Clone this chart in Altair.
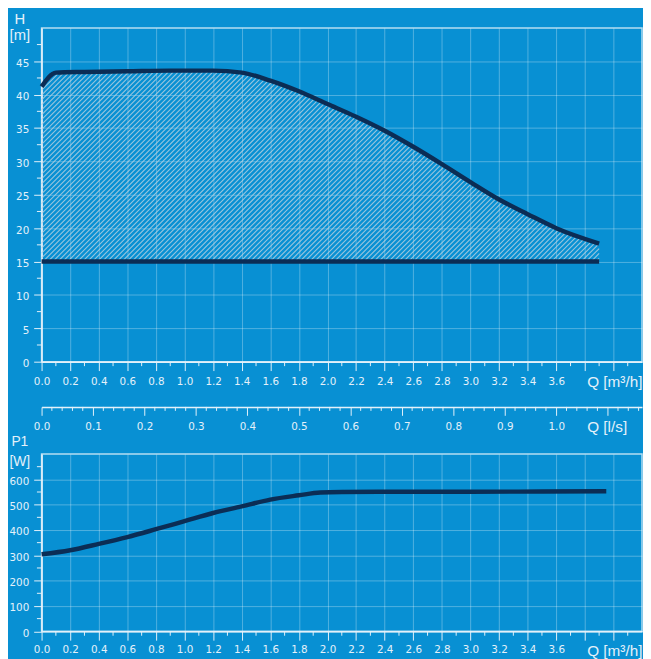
import altair as alt
import pandas as pd

# ---------------- data ----------------
# Max curve H(Q): Q in m3/h, H in m
Q_H = [0.0, 0.1, 0.3, 0.6, 0.9, 1.2, 1.4, 1.6, 1.8, 2.0, 2.2, 2.4, 2.6, 2.8, 3.0, 3.2, 3.4, 3.6, 3.9]
H_MAX = [41.2, 43.3, 43.4, 43.5, 43.6, 43.6, 43.3, 42.1, 40.5, 38.6, 36.7, 34.6, 32.2, 29.6, 26.9, 24.3, 22.1, 20.0, 17.7]
# Min curve (flat)
Q_MIN = [0.0, 3.9]
H_MIN = [15.0, 15.0]
# Power P1(Q): W
Q_P = [0.0, 0.2, 0.4, 0.6, 0.8, 1.0, 1.2, 1.4, 1.6, 1.8, 1.95, 2.1, 2.5, 3.0, 3.5, 3.95]
P1 = [304, 320, 345, 372, 403, 435, 467, 493, 520, 537, 548, 550, 551, 551, 552, 553]

# tick values
Q_MAJOR = [round(0.2 * i, 1) for i in range(21)]
Q_MINOR = [round(0.1 + 0.2 * i, 1) for i in range(21)]
H_MAJOR = [0, 5, 10, 15, 20, 25, 30, 35, 40, 45]
H_MINOR = [2.5, 7.5, 12.5, 17.5, 22.5, 27.5, 32.5, 37.5, 42.5, 47.5]
P_MAJOR = [0, 100, 200, 300, 400, 500, 600]
P_MINOR = [50, 150, 250, 350, 450, 550, 650]
LS_MAJOR = [round(0.1 * i, 1) for i in range(12)]
LS_MINOR = [round(0.02 * i, 2) for i in range(59) if i % 5]

# ---------------- style ----------------
BG = "#0890d3"
FG = "#e4f1fa"
CURVE = "#0b2d55"
HATCH = "#b3cfdf"
TICK_FONT = "DejaVu Sans"
TITLE_FONT = "Liberation Sans"

W = 608
H_TOP = 338
H_BOT = 179.5
Q_MAX = 4.2
LS_OFFSET = 45.8

# ---------------- hatch of the operating range ("/" lines, 5 px apart) ----------------
# segments are clipped to the region between the min line and the max curve
KX = W / Q_MAX
KY = H_TOP / 50
PERIOD = 5.0
INSET = 1.5
XS = [q * KX for q in Q_H]
YS = [h * KY for h in H_MAX]
Y_LOW = H_MIN[0] * KY
X_END = Q_MIN[-1] * KX


def curve_px(x):
    for i in range(len(XS) - 1):
        if x <= XS[i + 1]:
            t = (x - XS[i]) / (XS[i + 1] - XS[i])
            return YS[i] + t * (YS[i + 1] - YS[i])
    return YS[-1]


hq1, hh1, hq2, hh2 = [], [], [], []
k = int(-(max(YS) + 10) // PERIOD)
while k * PERIOD <= X_END - Y_LOW:
    d = k * PERIOD
    k += 1
    xs = max(0.0, d + Y_LOW)
    if xs > X_END:
        continue
    g = lambda x: curve_px(x) - INSET - (x - d)
    if g(xs) <= 0:
        continue
    if g(X_END) > 0:
        xe = X_END
    else:
        lo, hi = xs, X_END
        for _ in range(40):
            mid = (lo + hi) / 2
            if g(mid) > 0:
                lo = mid
            else:
                hi = mid
        xe = lo
    hq1.append(round(xs / KX, 5))
    hh1.append(round((xs - d) / KY, 5))
    hq2.append(round(xe / KX, 5))
    hh2.append(round((xe - d) / KY, 5))
df_hatch = pd.DataFrame({"q1": hq1, "h1": hh1, "q2": hq2, "h2": hh2})

# ---------------- scales / axes ----------------
x_scale = alt.Scale(domain=[0, Q_MAX], nice=False, zero=False)
ls_scale = alt.Scale(domain=[0, Q_MAX / 3.6], nice=False, zero=False)
h_scale = alt.Scale(domain=[0, 50], nice=False)
p_scale = alt.Scale(domain=[0, 700], nice=False)

q_label = "datum.value > 3.7 ? '' : format(datum.value, '.1f')"


def x_axis(label_pad, title_y):
    return alt.Axis(values=Q_MAJOR, labelExpr=q_label, grid=True, tickSize=9,
                    labelPadding=label_pad, title="Q [m³/h]", titleX=552, titleY=title_y,
                    titleAlign="left", titleBaseline="alphabetic", titleAngle=0,
                    titleFontSize=15.5)


xa_top = x_axis(6.5, 25.2)
xa_bot = x_axis(4.5, 25)

y_axis_top = alt.Axis(values=H_MAJOR, format="d", grid=True, tickSize=8, labelPadding=5,
                      labelOffset=2, title=["H", "[m]"], titleAngle=0, titleAlign="center",
                      titleBaseline="alphabetic", titleX=-22.5, titleY=-4.3, titleLineHeight=16)
y_axis_bot = alt.Axis(values=P_MAJOR, format="d", grid=True, tickSize=8, labelPadding=5,
                      labelOffset=2, title=["P1", "[W]"], titleAngle=0, titleAlign="center",
                      titleBaseline="alphabetic", titleX=-22.5, titleY=-8.4, titleLineHeight=20,
                      titleFontSize=14)
ls_axis = alt.Axis(orient="bottom", offset=LS_OFFSET, values=LS_MAJOR,
                   labelExpr="datum.value > 1.05 ? '' : format(datum.value, '.1f')",
                   grid=False, tickSize=8.5, labelPadding=6, title="Q [l/s]", titleX=552,
                   titleY=25, titleAlign="left", titleBaseline="alphabetic", titleAngle=0,
                   titleFontSize=15.5)

df_h = pd.DataFrame({"Q": Q_H, "H": H_MAX})
df_min = pd.DataFrame({"Q": Q_MIN, "H": H_MIN})
df_p = pd.DataFrame({"Q": Q_P, "P": P1})

# ---------------- top chart ----------------
hatch = alt.Chart(df_hatch).mark_rule(color=HATCH, strokeWidth=1.1, opacity=0.85).encode(
    x=alt.X("q1:Q", scale=x_scale, axis=xa_top),
    y=alt.Y("h1:Q", scale=h_scale, axis=y_axis_top),
    x2="q2:Q",
    y2="h2:Q",
)
line_max = alt.Chart(df_h).mark_line(color=CURVE, strokeWidth=4.5, interpolate="monotone").encode(
    x=alt.X("Q:Q", scale=x_scale, axis=xa_top),
    y=alt.Y("H:Q", scale=h_scale, axis=y_axis_top),
)
line_min = alt.Chart(df_min).mark_line(color=CURVE, strokeWidth=4.5).encode(
    x=alt.X("Q:Q", scale=x_scale, axis=xa_top),
    y=alt.Y("H:Q", scale=h_scale, axis=y_axis_top),
)
h_minor = alt.Chart(pd.DataFrame({"v": H_MINOR})).mark_rule(color=FG, strokeWidth=1).encode(
    y=alt.Y("v:Q", scale=h_scale, axis=y_axis_top), x=alt.value(-4.7), x2=alt.value(0))
q_minor_t = alt.Chart(pd.DataFrame({"v": Q_MINOR})).mark_rule(color=FG, strokeWidth=1).encode(
    x=alt.X("v:Q", scale=x_scale, axis=xa_top), y=alt.value(H_TOP), y2=alt.value(H_TOP + 4.5))

inner_top = alt.layer(hatch, line_max, line_min, h_minor, q_minor_t)

ls_layer = alt.Chart(pd.DataFrame({"v": LS_MINOR})).mark_rule(color=FG, strokeWidth=1).encode(
    x=alt.X("v:Q", scale=ls_scale, axis=ls_axis),
    y=alt.value(H_TOP + LS_OFFSET), y2=alt.value(H_TOP + LS_OFFSET + 4))

top = alt.layer(inner_top, ls_layer).resolve_scale(x="independent").resolve_axis(
    x="independent").properties(width=W, height=H_TOP)

# ---------------- bottom chart ----------------
line_p = alt.Chart(df_p).mark_line(color=CURVE, strokeWidth=4.5, interpolate="monotone").encode(
    x=alt.X("Q:Q", scale=x_scale, axis=xa_bot),
    y=alt.Y("P:Q", scale=p_scale, axis=y_axis_bot),
)
p_minor = alt.Chart(pd.DataFrame({"v": P_MINOR})).mark_rule(color=FG, strokeWidth=1).encode(
    y=alt.Y("v:Q", scale=p_scale, axis=y_axis_bot), x=alt.value(-4.7), x2=alt.value(0))
q_minor_b = alt.Chart(pd.DataFrame({"v": Q_MINOR})).mark_rule(color=FG, strokeWidth=1).encode(
    x=alt.X("v:Q", scale=x_scale, axis=xa_bot), y=alt.value(H_BOT), y2=alt.value(H_BOT + 4.5))

bottom = alt.layer(line_p, p_minor, q_minor_b).properties(width=W, height=H_BOT)

chart = alt.vconcat(top, bottom, spacing=93.5, bounds="flush").properties(
    background=BG, padding={"left": 0, "top": -2, "right": 0, "bottom": 0}
).configure_view(
    stroke="#ffffff", strokeOpacity=0.7, strokeWidth=1.5
).configure_axis(
    domainColor=FG, domainWidth=1.5, tickColor=FG, tickWidth=1,
    labelColor=FG, labelFont=TICK_FONT, labelFontSize=10.5,
    labelFlush=False, labelOverlap=False,
    titleColor=FG, titleFont=TITLE_FONT, titleFontSize=15, titleFontWeight="normal",
    gridColor="#ffffff", gridOpacity=0.3, gridWidth=1,
)

chart.save("out.html", embed_options={"renderer": "svg", "actions": False})
